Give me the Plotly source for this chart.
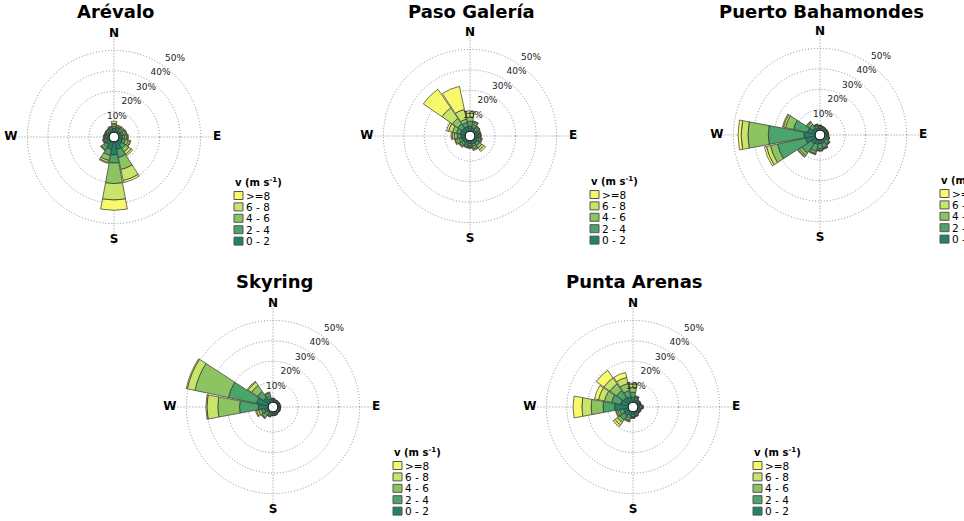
import numpy as np
import plotly.graph_objects as go

FIG_W, FIG_H = 964, 521

directions = ["N", "NNE", "NE", "ENE", "E", "ESE", "SE", "SSE",
              "S", "SSW", "SW", "WSW", "W", "WNW", "NW", "NNW"]
dir_angles = [i * 22.5 for i in range(16)]

speed_bins = ["0 - 2", "2 - 4", "4 - 6", "6 - 8", ">=8"]
bin_colors = ["#1f8466", "#4ba46a", "#8cc462", "#c9e46a", "#f8f86c"]

radial_ticks = [10, 20, 30, 40, 50]
radial_ticktext = ["10%", "20%", "30%", "40%", "50%"]
compass = ["N", "E", "S", "W"]
compass_angles = [0, 90, 180, 270]

stations = ["Arévalo", "Paso Galería", "Puerto Bahamondes", "Skyring", "Punta Arenas"]

# frecuencia acumulada (%) por dirección: hasta 2, 4, 6, 8 m/s y total
arevalo = [
    [2.0, 3.0, 4.0, 4.5, 5.5], [1.5, 2.5, 3.0, 3.5, 3.8], [1.5, 2.5, 3.2, 3.6, 4.0], [1.5, 2.5, 3.5, 4.0, 4.3],
    [1.8, 3.0, 4.0, 4.5, 4.8], [2.0, 3.5, 5.0, 5.8, 6.2], [2.5, 4.5, 6.5, 8.0, 8.8], [4.0, 8.0, 14.0, 19.5, 20.5],
    [6.5, 10.5, 20.5, 28.5, 33.5], [4.0, 7.0, 9.5, 10.5, 11.0], [2.5, 4.0, 5.0, 5.5, 5.8], [1.5, 2.5, 3.0, 3.3, 3.5],
    [1.2, 2.0, 2.5, 2.8, 3.0], [1.0, 1.8, 2.2, 2.5, 2.7], [1.0, 1.8, 2.3, 2.6, 2.8], [1.2, 2.0, 2.6, 3.0, 3.3],
]
paso_galeria = [
    [2.5, 5.0, 7.0, 9.0, 10.0], [2.0, 3.5, 4.5, 5.0, 5.3], [1.5, 2.5, 3.2, 3.5, 3.7], [1.5, 2.2, 2.8, 3.0, 3.2],
    [1.5, 2.2, 2.8, 3.1, 3.3], [1.5, 2.5, 3.2, 3.6, 4.0], [2.0, 3.5, 4.8, 6.0, 7.0], [1.8, 3.0, 4.0, 4.6, 5.0],
    [1.5, 2.5, 3.2, 3.6, 3.8], [1.5, 2.5, 3.2, 3.5, 3.7], [1.8, 3.0, 3.8, 4.2, 4.5], [2.0, 3.3, 4.5, 5.2, 5.5],
    [2.2, 4.0, 5.5, 6.5, 7.0], [2.5, 4.5, 6.5, 8.5, 9.5], [2.5, 5.0, 8.2, 14.4, 25.4], [2.5, 4.5, 6.2, 11.0, 22.5],
]
puerto_bahamondes = [
    [1.2, 2.0, 2.3, 2.5, 2.6], [1.0, 1.6, 1.9, 2.0, 2.1], [1.0, 1.5, 1.8, 1.9, 2.0], [1.0, 1.5, 1.8, 1.9, 2.0],
    [1.0, 1.6, 1.9, 2.0, 2.1], [1.2, 2.0, 2.4, 2.6, 2.7], [1.5, 3.0, 3.5, 3.7, 3.8], [2.0, 4.0, 4.6, 4.8, 4.9],
    [2.0, 4.5, 5.2, 5.5, 5.6], [2.5, 6.0, 7.0, 7.4, 7.6], [3.0, 8.5, 10.0, 10.7, 11.0], [5.0, 19.0, 22.5, 24.5, 25.5],
    [5.6, 23.0, 32.9, 36.2, 37.7], [4.0, 11.0, 15.0, 16.0, 16.5], [2.0, 4.0, 5.2, 5.7, 5.9], [1.5, 2.5, 3.0, 3.2, 3.3],
]
skyring = [
    [1.0, 1.5, 1.8, 2.0, 2.1], [0.8, 1.2, 1.4, 1.5, 1.5], [0.8, 1.2, 1.4, 1.5, 1.5], [0.8, 1.2, 1.4, 1.5, 1.5],
    [0.8, 1.2, 1.4, 1.5, 1.6], [0.8, 1.2, 1.4, 1.5, 1.6], [0.8, 1.3, 1.5, 1.6, 1.7], [1.0, 1.5, 1.8, 1.9, 2.0],
    [1.0, 1.6, 1.9, 2.0, 2.1], [1.2, 2.0, 2.5, 2.7, 2.8], [1.5, 3.0, 4.0, 4.5, 4.7], [2.0, 3.5, 5.0, 6.0, 6.5],
    [5.0, 14.1, 24.7, 30.0, 30.5], [6.0, 20.0, 36.7, 40.5, 41.0], [3.5, 7.0, 10.5, 12.5, 13.0], [2.0, 3.5, 4.5, 5.0, 5.3],
]
punta_arenas = [
    [2.5, 5.0, 7.5, 9.0, 9.5], [1.5, 2.5, 3.0, 3.2, 3.4], [1.0, 1.6, 1.9, 2.0, 2.1], [1.0, 1.5, 1.8, 1.9, 2.0],
    [1.2, 2.0, 2.5, 2.7, 2.8], [1.0, 1.5, 1.8, 1.9, 2.0], [1.0, 1.5, 1.8, 1.9, 2.0], [1.2, 2.0, 2.4, 2.6, 2.7],
    [1.5, 2.5, 3.0, 3.2, 3.3], [2.0, 3.5, 4.5, 5.0, 5.3], [3.0, 5.5, 7.0, 8.5, 9.5], [2.5, 4.5, 5.5, 6.2, 6.5],
    [6.8, 12.4, 18.2, 22.7, 27.0], [4.0, 8.5, 12.0, 15.0, 17.0], [3.5, 7.5, 11.5, 15.0, 19.5], [3.0, 6.0, 9.5, 12.5, 15.0],
]
station_data = [arevalo, paso_galeria, puerto_bahamondes, skyring, punta_arenas]

# centro de cada rosa y altura del título, en píxeles
centers = [(114, 137), (470, 136), (820, 135), (273, 407), (633, 407)]
title_y = [11, 11, 11, 281, 281]
R = 108
FONT = "DejaVu Sans"
GRID = dict(gridcolor="#8c8c8c", griddash="1px,2px", gridwidth=1)


def px(x):
    return x / FIG_W


def py(y):
    return 1 - y / FIG_H


fig = go.Figure()
annotations, shapes = [], []
layout_polars = {}

for k, (name, data, (cx, cy), ty_title) in enumerate(zip(stations, station_data, centers, title_y)):
    pid = "polar" if k == 0 else f"polar{k + 1}"
    cum = np.array(data)
    inc = np.diff(np.c_[np.zeros(len(cum)), cum], axis=1)

    for b in range(len(speed_bins)):
        fig.add_trace(go.Barpolar(
            r=inc[:, b], theta=dir_angles, width=21, name=speed_bins[b], subplot=pid,
            marker=dict(color=bin_colors[b], line=dict(color="#333333", width=0.7)),
            showlegend=False,
        ))
    # borde del círculo central
    fig.add_trace(go.Scatterpolar(
        r=np.zeros(73), theta=np.linspace(0, 360, 73), mode="lines", subplot=pid,
        line=dict(color="black", width=1.2), showlegend=False, hoverinfo="skip",
    ))
    fig.add_trace(go.Scatterpolar(
        r=[48] * len(compass), theta=compass_angles, text=compass, mode="text", subplot=pid,
        textfont=dict(family=FONT, size=12, color="black", weight="bold"), showlegend=False,
    ))

    layout_polars[pid] = dict(
        domain=dict(x=[px(cx - R), px(cx + R)], y=[py(cy + R), py(cy - R)]),
        hole=0.042, bgcolor="white", barmode="stack",
        radialaxis=dict(
            range=[0, 50.4], tickvals=radial_ticks, ticktext=radial_ticktext,
            angle=45, tickangle=45, side="counterclockwise", showline=False, ticks="",
            tickfont=dict(family=FONT, size=9, color="#222222"), **GRID,
        ),
        angularaxis=dict(
            rotation=90, direction="clockwise", tickvals=compass_angles,
            showticklabels=False, ticks="", showline=False, **GRID,
        ),
    )

    annotations.append(dict(
        text=name, x=px(cx + 1), y=py(ty_title), xref="paper", yref="paper", showarrow=False,
        xanchor="center", yanchor="middle", font=dict(family=FONT, size=18, color="black", weight="bold"),
    ))

    # leyenda de velocidad
    lx = cx + 120
    ty = cy + 45
    annotations.append(dict(
        text="v (m s<sup>-1</sup>)", x=px(lx - 1), y=py(ty), xref="paper", yref="paper",
        showarrow=False, xanchor="left", yanchor="middle",
        font=dict(family=FONT, size=10, color="black", weight="bold"),
    ))
    for j, b in enumerate(reversed(range(len(speed_bins)))):
        iy = ty + 13.5 + j * 11.4
        shapes.append(dict(
            type="rect", xref="paper", yref="paper",
            x0=px(lx), x1=px(lx + 9), y0=py(iy + 4), y1=py(iy - 4),
            fillcolor=bin_colors[b], line=dict(color="#555555", width=1),
        ))
        annotations.append(dict(
            text=speed_bins[b], x=px(lx + 10), y=py(iy), xref="paper", yref="paper",
            showarrow=False, xanchor="left", yanchor="middle", font=dict(family=FONT, size=10.5, color="black"),
        ))

fig.update_layout(
    width=FIG_W, height=FIG_H,
    margin=dict(l=0, r=0, t=0, b=0, autoexpand=False),
    paper_bgcolor="white", plot_bgcolor="white",
    showlegend=False,
    annotations=annotations, shapes=shapes,
    **layout_polars,
)

# sin el margen por defecto del body, la figura empieza en la esquina de la ventana
fig.write_html(
    "out.html",
    config={"displayModeBar": False},
    post_script="document.body.style.margin = '0';",
)
